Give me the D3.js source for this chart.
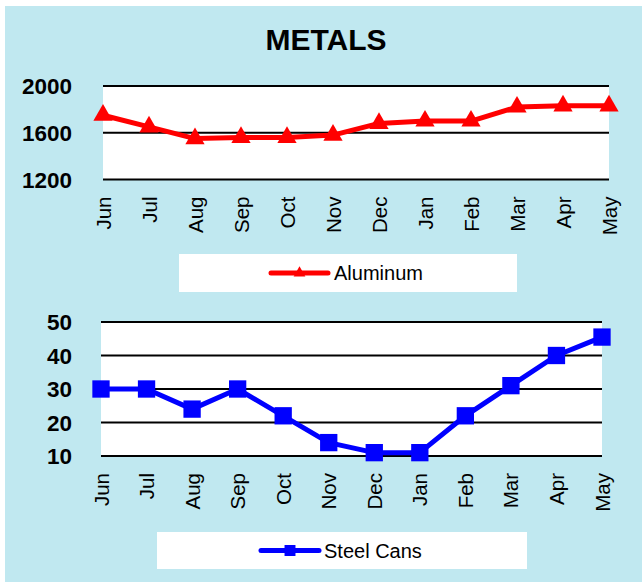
<!DOCTYPE html>
<html><head><meta charset="utf-8">
<script src="https://cdn.jsdelivr.net/npm/d3@7"></script>
<style>html,body{margin:0;padding:0;background:#fff;}svg{display:block;}</style>
</head><body>
<script>
const months = ["Jun","Jul","Aug","Sep","Oct","Nov","Dec","Jan","Feb","Mar","Apr","May"];
const aluminum = [1750,1650,1550,1560,1560,1580,1680,1700,1700,1820,1830,1830];
const steelCans = [30,30,24,30,22,14,11,11,22,31,40,45.5];
const aluminumTicks = [1200,1600,2000];
const steelTicks = [10,20,30,40,50];
const title = "METALS";

const W = 642, H = 584;
const FONT = "'Liberation Sans', Arial, sans-serif";
const svg = d3.select("body").append("svg").attr("width", W).attr("height", H);
svg.append("rect").attr("x",5).attr("y",6).attr("width",W-5).attr("height",H-8).attr("fill","#C0E8F0");

svg.append("text").attr("x",326).attr("y",50).attr("text-anchor","middle")
  .attr("font-family",FONT).attr("font-weight","bold").attr("font-size",30).text(title);

function panel(cfg){
  const x = d3.scalePoint().domain(months).range([cfg.x0, cfg.x1]);
  const y = d3.scaleLinear().domain(cfg.domain).range([cfg.yb, cfg.yt]);
  const g = svg.append("g");
  g.append("rect").attr("x",cfg.x0).attr("y",cfg.yt).attr("width",cfg.x1-cfg.x0).attr("height",cfg.yb-cfg.yt).attr("fill","#fff");
  g.selectAll(".grid").data(cfg.ticks).join("line")
    .attr("x1",cfg.x0).attr("x2",cfg.x1).attr("y1",d=>y(d)).attr("y2",d=>y(d))
    .attr("stroke","#000").attr("stroke-width",2);
  g.selectAll(".yl").data(cfg.ticks).join("text")
    .attr("x",72).attr("y",d=>y(d)).attr("dy","0.36em").attr("text-anchor","end")
    .attr("font-family",FONT).attr("font-weight","bold").attr("font-size",22.5).text(d=>d);
  g.selectAll(".xl").data(months).join("text")
    .attr("transform",d=>`translate(${x(d)+7.5},${cfg.yb+17}) rotate(-90)`)
    .attr("text-anchor","end").attr("font-family",FONT).attr("font-size",20.5).text(d=>d);
  const line = d3.line().x((d,i)=>x(months[i])).y(d=>y(d));
  g.append("path").datum(cfg.values).attr("d",line).attr("fill","none")
    .attr("stroke",cfg.color).attr("stroke-width",5).attr("stroke-linejoin","round");
  g.selectAll(".mk").data(cfg.values).join("path")
    .attr("transform",(d,i)=>`translate(${x(months[i])},${y(d)})`)
    .attr("d",d3.symbol().type(cfg.symbol).size(cfg.msize)).attr("fill",cfg.color);
  const L = cfg.legend;
  g.append("rect").attr("x",L.x).attr("y",L.y).attr("width",L.w).attr("height",L.h).attr("fill","#fff");
  const ly = L.y + L.h/2;
  g.append("line").attr("x1",L.lx0).attr("x2",L.lx1).attr("y1",ly).attr("y2",ly)
    .attr("stroke",cfg.color).attr("stroke-width",5).attr("stroke-linecap","round");
  g.append("path").attr("transform",`translate(${(L.lx0+L.lx1)/2},${ly})`)
    .attr("d",d3.symbol().type(cfg.symbol).size(L.msize)).attr("fill",cfg.color);
  g.append("text").attr("x",L.tx).attr("y",ly).attr("dy","0.36em")
    .attr("font-family",FONT).attr("font-size",20).text(cfg.name);
}

panel({x0:103,x1:609,yt:86,yb:179.5,domain:[1200,2000],ticks:aluminumTicks,values:aluminum,
  color:"#FF0000",symbol:d3.symbolTriangle,msize:160,name:"Aluminum",
  legend:{x:179,y:254,w:338,h:38,lx0:271,lx1:328,tx:334,msize:60}});
panel({x0:101,x1:602,yt:322,yb:456,domain:[10,50],ticks:steelTicks,values:steelCans,
  color:"#0000FF",symbol:d3.symbolSquare,msize:300,name:"Steel Cans",
  legend:{x:157,y:532,w:370,h:37,lx0:261,lx1:319,tx:324,msize:120}});
</script>
</body></html>
